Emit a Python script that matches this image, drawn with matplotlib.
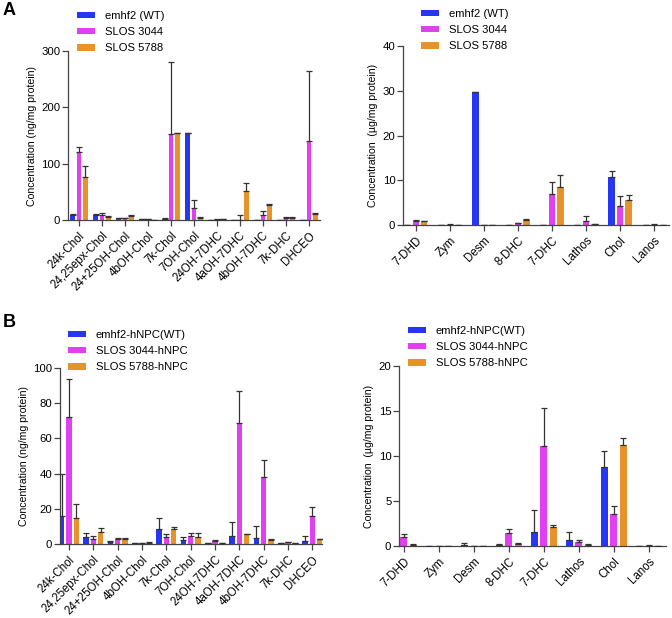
import matplotlib
matplotlib.use("Agg")
import matplotlib.pyplot as plt
import numpy as np

plt.rcParams["font.family"] = ["Liberation Sans", "DejaVu Sans"]

# ---- data -----------------------------------------------------------------
oxy_labels = ["24k-Chol", "24,25epx-Chol", "24+25OH-Chol", "4bOH-Chol", "7k-Chol",
              "7OH-Chol", "24OH-7DHC", "4aOH-7DHC", "4bOH-7DHC", "7k-DHC", "DHCEO"]
sterol_labels = ["7-DHD", "Zym", "Desm", "8-DHC", "7-DHC", "Lathos", "Chol", "Lanos"]

# Panel A, oxysterols (ng/mg protein)
a_oxy_wt = [8, 8, 3, 1, 2, 154, 0, 0, 0, 0, 0]
a_oxy_wt_err = [2, 2, 1, 1, 1, 1, 0, 0, 0, 0, 0]
a_oxy_3044 = [120, 8, 3, 1, 153, 22, 0.5, 0, 9, 4, 141]
a_oxy_3044_err = [10, 4, 1, 0, 127, 13, 0.5, 8, 7, 1.5, 124]
a_oxy_5788 = [77, 5, 7, 0, 154, 4, 1.5, 51, 27, 4, 10]
a_oxy_5788_err = [19, 2, 2, 0, 1, 2, 0.5, 14, 2, 1, 2]

# Panel A, sterols (ug/mg protein)
a_st_wt = [0, 0, 29.7, 0, 0, 0, 10.7, 0]
a_st_wt_err = [0, 0, 0.1, 0, 0, 0, 1.3, 0]
a_st_3044 = [0.8, 0.1, 0, 0.4, 6.9, 1.0, 4.3, 0.1]
a_st_3044_err = [0.4, 0.1, 0, 0.1, 2.8, 1.0, 2.2, 0.1]
a_st_5788 = [0.8, 0, 0, 1.2, 8.5, 0.2, 5.6, 0]
a_st_5788_err = [0.2, 0, 0, 0.2, 2.6, 0.1, 1.2, 0]

# Panel B, oxysterols (ng/mg protein)
b_oxy_wt = [16, 4, 1.2, 0.5, 8.5, 2, 0.3, 4.5, 3.5, 0.3, 1.8]
b_oxy_wt_err = [23.5, 2, 0.4, 0.2, 6.5, 1.8, 0.1, 8, 6.5, 0.1, 2.7]
b_oxy_3044 = [72, 3, 3, 0.5, 4, 4.8, 1.5, 68.5, 38, 1, 16]
b_oxy_3044_err = [21.5, 1.5, 0.5, 0.3, 1.5, 1.2, 0.5, 18.5, 10, 0.3, 5]
b_oxy_5788 = [14.5, 7, 3, 0.7, 8.5, 4, 0.5, 5.5, 2, 0.3, 2.8]
b_oxy_5788_err = [8.5, 2, 0.6, 0.3, 1, 2, 0.2, 0.3, 0.8, 0.1, 0.2]

# Panel B, sterols (ug/mg protein)
b_st_wt = [0.15, 0.03, 0.15, 0.15, 1.6, 0.7, 8.8, 0.03]
b_st_wt_err = [0.15, 0.02, 0.15, 0.1, 2.45, 0.9, 1.8, 0.02]
b_st_3044 = [1.0, 0.03, 0, 1.45, 11.1, 0.5, 3.6, 0.05]
b_st_3044_err = [0.35, 0.02, 0, 0.45, 4.2, 0.15, 0.9, 0.03]
b_st_5788 = [0.15, 0, 0, 0.25, 2.1, 0.15, 11.2, 0]
b_st_5788_err = [0.05, 0, 0, 0.05, 0.2, 0.05, 0.8, 0]

names_a = ["emhf2 (WT)", "SLOS 3044", "SLOS 5788"]
names_b = ["emhf2-hNPC(WT)", "SLOS 3044-hNPC", "SLOS 5788-hNPC"]

COLORS = ["#2536f5", "#e03ff2", "#e8922c"]
ERR_COLOR = "#333333"
AXIS_COLOR = "#444444"


def grouped_bars(ax, labels, series, errs, names, offset, width, ylim, yticks, ylabel, xlim):
    x = np.arange(len(labels))
    for i, (vals, err, name) in enumerate(zip(series, errs, names)):
        pos = x + (i - 1) * offset
        ax.bar(pos, vals, width=width, color=COLORS[i], label=name, zorder=2)
        ax.errorbar(pos, vals, yerr=[np.zeros(len(vals)), err], fmt="none",
                    ecolor=ERR_COLOR, elinewidth=0.9, capsize=2.0, capthick=0.9, zorder=3)
    ax.set_xticks(x)
    ax.set_xticklabels(labels, rotation=45, ha="right", rotation_mode="anchor", fontsize=8.3)
    ax.set_xlim(*xlim)
    ax.set_ylim(*ylim)
    ax.set_yticks(yticks)
    ax.tick_params(axis="y", labelsize=8.2, length=4, width=0.9, color=AXIS_COLOR, pad=1.5)
    ax.tick_params(axis="x", length=4.5, width=0.9, color=AXIS_COLOR, pad=2.5)
    ax.set_ylabel(ylabel, fontsize=7.6, labelpad=3)
    for side in ("top", "right"):
        ax.spines[side].set_visible(False)
    for side in ("left", "bottom"):
        ax.spines[side].set_color(AXIS_COLOR)
        ax.spines[side].set_linewidth(0.9)


def legend_at(ax, fig, xpx, ypx):
    ax.legend(loc="upper left", bbox_to_anchor=(xpx / 672, 1 - ypx / 618),
              bbox_transform=fig.transFigure, frameon=False, fontsize=8.1,
              handlelength=1.6, handleheight=0.5, handletextpad=0.85,
              labelspacing=0.55, borderpad=0, borderaxespad=0)


fig = plt.figure(figsize=(6.72, 6.18), dpi=100)

ax1 = fig.add_axes([68 / 672, 1 - 220 / 618, 252 / 672, 169 / 618])
grouped_bars(ax1, oxy_labels, [a_oxy_wt, a_oxy_3044, a_oxy_5788],
             [a_oxy_wt_err, a_oxy_3044_err, a_oxy_5788_err], names_a,
             0.28, 0.21, (0, 300), [0, 100, 200, 300],
             "Concentration (ng/mg protein)", (-0.48, 10.48))
legend_at(ax1, fig, 77, 11)

ax2 = fig.add_axes([403 / 672, 1 - 225 / 618, 266 / 672, 179 / 618])
grouped_bars(ax2, sterol_labels, [a_st_wt, a_st_3044, a_st_5788],
             [a_st_wt_err, a_st_3044_err, a_st_5788_err], names_a,
             0.25, 0.18, (0, 40), [0, 10, 20, 30, 40],
             "Concentration  (\u00b5g/mg protein)", (-0.38, 7.44))
legend_at(ax2, fig, 421, 9)

ax3 = fig.add_axes([60 / 672, 1 - 544 / 618, 262 / 672, 176 / 618])
grouped_bars(ax3, oxy_labels, [b_oxy_wt, b_oxy_3044, b_oxy_5788],
             [b_oxy_wt_err, b_oxy_3044_err, b_oxy_5788_err], names_b,
             0.3, 0.22, (0, 100), [0, 20, 40, 60, 80, 100],
             "Concentration (ng/mg protein)", (-0.37, 10.4))
legend_at(ax3, fig, 68, 330)

ax4 = fig.add_axes([399 / 672, 1 - 546 / 618, 267 / 672, 180 / 618])
grouped_bars(ax4, sterol_labels, [b_st_wt, b_st_3044, b_st_5788],
             [b_st_wt_err, b_st_3044_err, b_st_5788_err], names_b,
             0.27, 0.2, (0, 20), [0, 5, 10, 15, 20],
             "Concentration  (\u00b5g/mg protein)", (-0.14, 7.5))
legend_at(ax4, fig, 408, 326)

fig.text(3 / 672, 1 - 2 / 618, "A", fontsize=13, fontweight="bold", va="top", ha="left")
fig.text(3 / 672, 1 - 314 / 618, "B", fontsize=13, fontweight="bold", va="top", ha="left")

fig.savefig("out.png", dpi=100)
